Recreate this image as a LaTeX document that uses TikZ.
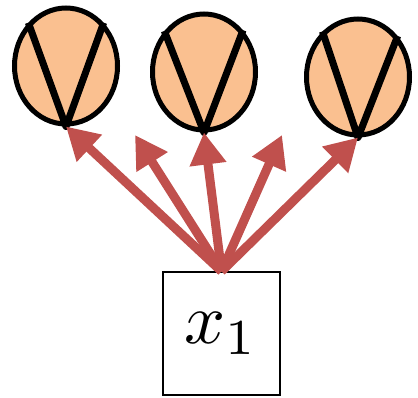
\documentclass[tikz,border=0pt]{standalone}
\usepackage{graphicx}
\usetikzlibrary{arrows.meta,shapes.geometric}
\definecolor{arrred}{HTML}{C0504D}
\definecolor{unitfill}{HTML}{FAC090}
\begin{document}
\begin{tikzpicture}[x=1pt,y=-1pt,
  unit/.style={ellipse,draw=black,line width=5pt,fill=unitfill,minimum width=103pt,minimum height=116pt,inner sep=0pt},
  vmark/.style={line width=7pt,line join=round,line cap=butt},
  inbox/.style={draw=black,line width=1.3pt,fill=white,minimum width=117pt,minimum height=123pt,inner sep=0pt},
  conn/.style={arrred,line width=9pt,-{Triangle[width=35pt,length=32pt]}}]
\useasboundingbox (0,0) rectangle (418,397);
\node[unit] (e1) at (66,66) {};
\node[unit] (e2) at (204,72) {};
\node[unit] (e3) at (358,77) {};
\draw[vmark] (e1.131) -- (e1.south) -- (e1.49);
\draw[vmark] (e2.134) -- (e2.south) -- (e2.47);
\draw[vmark] (e3.128) -- (e3.south) -- (e3.46);
\coordinate (t2) at (135,135);
\coordinate (t4) at (282,135);
\node[inbox] (x) at (221.5,333.5) {\scalebox{7.2}{$x_1$}};
\draw[conn] (x.north) -- (e1.south);
\draw[conn] (x.north) -- (t2);
\draw[conn] (x.north) -- (e2.south);
\draw[conn] (x.north) -- (t4);
\draw[conn] (x.north) -- (e3.south);
\end{tikzpicture}
\end{document}
